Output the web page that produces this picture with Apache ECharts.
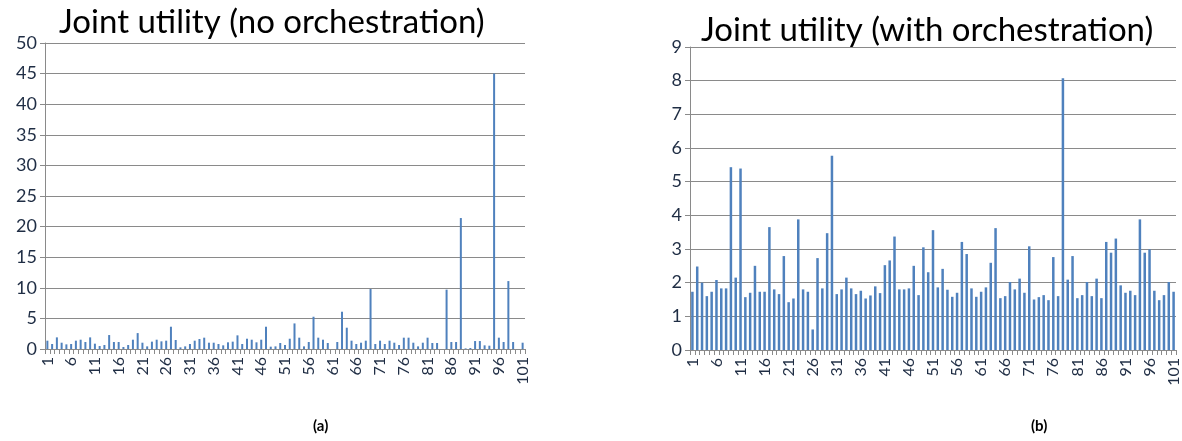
<!DOCTYPE html>
<html>
<head>
<meta charset="utf-8">
<script src="https://cdn.jsdelivr.net/npm/echarts@6/dist/echarts.min.js"></script>
<style>
  html, body { margin: 0; padding: 0; background: #fff; }
  #container { width: 1182px; height: 441px; }
</style>
</head>
<body>
<div id="container"></div>
<script>
var dom = document.getElementById("container");

// categories 1..101
var cats = [];
for (var i = 1; i <= 101; i++) cats.push(String(i));

// joint utility without orchestration
var noOrch = [
  1.36, 0.82, 1.9, 1.03, 0.76, 0.82, 1.36, 1.52, 1.14, 1.9,
  0.87, 0.49, 0.65, 2.28, 1.14, 1.14, 0.33, 0.65, 1.52, 2.6,
  1.03, 0.43, 1.2, 1.52, 1.25, 1.36, 3.64, 1.47, 0.27, 0.43,
  0.82, 1.36, 1.63, 1.85, 1.03, 1.03, 0.82, 0.6, 1.09, 1.2,
  2.23, 0.82, 1.68, 1.52, 1.09, 1.52, 3.64, 0.38, 0.43, 0.98,
  0.65, 1.68, 4.18, 1.85, 0.43, 1.14, 5.27, 1.85, 1.52, 0.98,
  0, 1.14, 6.09, 3.48, 1.36, 0.82, 1.03, 1.36, 9.8, 0.82,
  1.36, 0.82, 1.36, 1.03, 0.65, 1.85, 1.85, 1.03, 0.43, 1.03,
  1.85, 0.98, 0.98, 0, 9.7, 1.14, 1.14, 21.4, 0.1, 0.16,
  1.3, 1.3, 0.6, 0.54, 45, 1.85, 1.14, 11.1, 1.14, 0,
  1.03
];

// joint utility with orchestration
var withOrch = [
  1.73, 2.48, 2.0, 1.6, 1.73, 2.08, 1.83, 1.83, 5.43, 2.15,
  5.39, 1.57, 1.7, 2.5, 1.73, 1.73, 3.65, 1.8, 1.66, 2.79,
  1.42, 1.53, 3.88, 1.8, 1.73, 0.61, 2.73, 1.83, 3.47, 5.77,
  1.66, 1.8, 2.15, 1.83, 1.66, 1.76, 1.53, 1.62, 1.89, 1.69,
  2.52, 2.66, 3.37, 1.8, 1.8, 1.83, 2.5, 1.63, 3.05, 2.31,
  3.56, 1.86, 2.41, 1.79, 1.58, 1.7, 3.21, 2.85, 1.83, 1.58,
  1.73, 1.86, 2.59, 3.62, 1.54, 1.6, 2.02, 1.8, 2.12, 1.7,
  3.08, 1.5, 1.57, 1.63, 1.48, 2.76, 1.6, 8.07, 2.09, 2.79,
  1.54, 1.63, 2.02, 1.6, 2.12, 1.54, 3.21, 2.89, 3.31, 1.92,
  1.7, 1.76, 1.63, 3.88, 2.89, 2.99, 1.76, 1.48, 1.63, 2.02,
  1.73
];

var titles = ["Joint utility (no orchestration)", "Joint utility (with orchestration)"];
var captions = ["(a)", "(b)"];

var font = "Lato, 'Open Sans', sans-serif";
var labelColor = "#1f2d44";
var gridColor = "#8a8a8a";
var barColor = "#4f81bd";

function xAx(idx) {
  return {
    type: "category",
    gridIndex: idx,
    data: cats,
    axisLine: { lineStyle: { color: gridColor, width: 1 } },
    axisTick: { show: true, interval: 0, length: 5, lineStyle: { color: gridColor } },
    axisLabel: {
      interval: 4,
      rotate: 90,
      fontSize: 16,
      fontFamily: font,
      color: labelColor,
      margin: 8
    }
  };
}

function yAx(idx, max, step) {
  return {
    type: "value",
    gridIndex: idx,
    min: 0,
    max: max,
    interval: step,
    axisLine: { show: true, lineStyle: { color: gridColor, width: 1 } },
    axisTick: { show: true, length: 5, lineStyle: { color: gridColor } },
    axisLabel: { fontSize: 18, fontFamily: font, color: labelColor, margin: 8 },
    splitLine: { lineStyle: { color: gridColor, width: 1 } }
  };
}

var myChart = echarts.init(dom, null, { renderer: "canvas" });
var option = {
  backgroundColor: "#ffffff",
  animation: false,
  title: [
    { text: titles[0], left: 54, top: 1, textStyle: { fontSize: 33, fontWeight: "normal", color: "#000", fontFamily: font } },
    { text: titles[1], left: 696, top: 9, textStyle: { fontSize: 33, fontWeight: "normal", color: "#000", fontFamily: font } },
    { text: captions[0], left: 308, top: 414, textStyle: { fontSize: 15, fontWeight: "bold", color: "#000", fontFamily: font } },
    { text: captions[1], left: 1026, top: 414, textStyle: { fontSize: 15, fontWeight: "bold", color: "#000", fontFamily: font } }
  ],
  grid: [
    { left: 45, top: 43, width: 480, height: 306 },
    { left: 690, top: 47, width: 486, height: 303 }
  ],
  xAxis: [xAx(0), xAx(1)],
  yAxis: [yAx(0, 50, 5), yAx(1, 9, 1)],
  series: [
    {
      type: "bar",
      xAxisIndex: 0,
      yAxisIndex: 0,
      data: noOrch,
      barWidth: 2,
      itemStyle: { color: barColor }
    },
    {
      type: "bar",
      xAxisIndex: 1,
      yAxisIndex: 1,
      data: withOrch,
      barWidth: 2.5,
      itemStyle: { color: barColor }
    }
  ]
};
myChart.setOption(option);
</script>
</body>
</html>
